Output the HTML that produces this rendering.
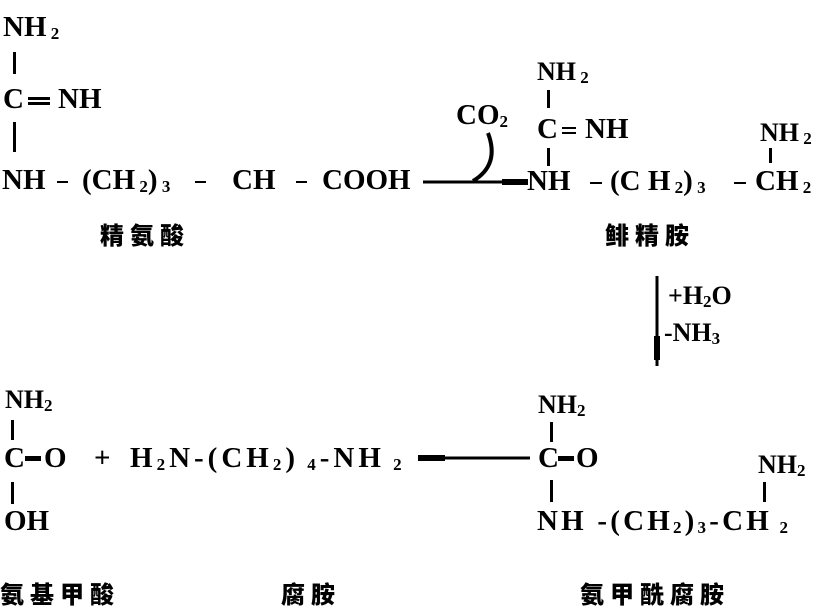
<!DOCTYPE html><html><head><meta charset="utf-8"><style>
body{margin:0;width:819px;height:604px;background:#fff;position:relative;overflow:hidden;font-family:"Liberation Serif","Noto Serif CJK SC",serif;font-weight:bold;color:#000}
.t{position:absolute;font-size:29px;line-height:30px;white-space:pre}
.s{font-size:26px}
.c{position:absolute;font-family:"Noto Sans CJK SC",sans-serif;font-weight:900;font-size:24px;line-height:26px;letter-spacing:6px}
sub{font-size:17px;vertical-align:-3px;line-height:0}
.v{position:absolute;width:3px;background:#000}
.h{position:absolute;height:4px;background:#000}
svg{position:absolute;left:0;top:0}
</style></head><body>
<div class="t" style="left:3px;top:12px">NH<sub> 2</sub></div>
<div class="v" style="left:13px;top:52px;height:22px"></div>
<div class="t" style="left:3px;top:84px">C</div>
<div class="h" style="left:28px;top:97px;width:22px;height:3px"></div>
<div class="h" style="left:28px;top:102px;width:22px;height:3px"></div>
<div class="t" style="left:58px;top:84px">NH</div>
<div class="v" style="left:13px;top:122px;height:30px"></div>
<div class="t" style="left:2px;top:165px">NH</div>
<div class="h" style="left:57px;top:181px;width:11px;height:2px"></div>
<div class="t" style="left:82px;top:165px">(CH<sub> 2</sub>)<sub> 3</sub></div>
<div class="h" style="left:195px;top:181px;width:11px;height:2px"></div>
<div class="t" style="left:232px;top:165px">CH</div>
<div class="h" style="left:296px;top:181px;width:11px;height:2px"></div>
<div class="t" style="left:322px;top:165px">COOH</div>
<div class="c" style="left:100px;top:221px">精氨酸</div>
<div class="t s" style="left:537px;top:57px">NH<sub> 2</sub></div>
<div class="v" style="left:547px;top:90px;height:18px"></div>
<div class="t" style="left:537px;top:114px">C</div>
<div class="h" style="left:562px;top:127px;width:14px;height:2px"></div>
<div class="h" style="left:562px;top:132px;width:14px;height:2px"></div>
<div class="t" style="left:585px;top:114px">NH</div>
<div class="t" style="left:456px;top:100px">CO<sub>2</sub></div>
<div class="v" style="left:547px;top:148px;height:18px"></div>
<div class="t" style="left:527px;top:166px">NH</div>
<div class="h" style="left:590px;top:182px;width:12px;height:2px"></div>
<div class="t" style="left:610px;top:166px">(C H<sub> 2</sub>)<sub> 3</sub></div>
<div class="h" style="left:734px;top:182px;width:12px;height:2px"></div>
<div class="t" style="left:755px;top:166px">CH<sub> 2</sub></div>
<div class="t s" style="left:760px;top:118px">NH<sub> 2</sub></div>
<div class="v" style="left:769px;top:148px;height:15px"></div>
<div class="c" style="left:605px;top:221px">鲱精胺</div>
<div class="t s" style="left:668px;top:281px">+H<sub>2</sub>O</div>
<div class="t s" style="left:664px;top:318px">-NH<sub>3</sub></div>
<div class="t s" style="left:5px;top:385px">NH<sub>2</sub></div>
<div class="v" style="left:11px;top:420px;height:20px"></div>
<div class="t" style="left:4px;top:443px">C</div>
<div class="h" style="left:25px;top:456px;width:16px;height:5px"></div>
<div class="t" style="left:44px;top:443px">O</div>
<div class="t" style="left:94px;top:443px">+</div>
<div class="t" style="left:130px;top:443px;letter-spacing:4px">H<sub>2</sub>N-(CH<sub>2</sub>)<sub> 4</sub>-NH<sub> 2</sub></div>
<div class="v" style="left:11px;top:482px;height:22px"></div>
<div class="t" style="left:4px;top:506px">OH</div>
<div class="t s" style="left:538px;top:390px">NH<sub>2</sub></div>
<div class="v" style="left:550px;top:422px;height:20px"></div>
<div class="t" style="left:538px;top:443px">C</div>
<div class="h" style="left:558px;top:456px;width:16px;height:5px"></div>
<div class="t" style="left:576px;top:443px">O</div>
<div class="v" style="left:550px;top:480px;height:22px"></div>
<div class="t" style="left:537px;top:506px;letter-spacing:3.2px">NH -(CH<sub>2</sub>)<sub>3</sub>-CH<sub> 2</sub></div>
<div class="t s" style="left:758px;top:450px">NH<sub>2</sub></div>
<div class="v" style="left:763px;top:482px;height:20px"></div>
<div class="c" style="left:0px;top:580px">氨基甲酸</div>
<div class="c" style="left:281px;top:580px">腐胺</div>
<div class="c" style="left:580px;top:580px">氨甲酰腐胺</div>
<svg width="819" height="604">
<path d="M423 182 L528 182" stroke="#000" stroke-width="3"/>
<path d="M502 182 L528 182" stroke="#000" stroke-width="6"/>
<path d="M473 181 Q500 165 488 133" stroke="#000" stroke-width="4" fill="none"/>
<path d="M418 458 L530 458" stroke="#000" stroke-width="3"/>
<path d="M418 458 L445 458" stroke="#000" stroke-width="6"/>
<path d="M657 276 L657 366" stroke="#000" stroke-width="3"/>
<path d="M657 336 L657 360" stroke="#000" stroke-width="6"/>
</svg>
</body></html>
